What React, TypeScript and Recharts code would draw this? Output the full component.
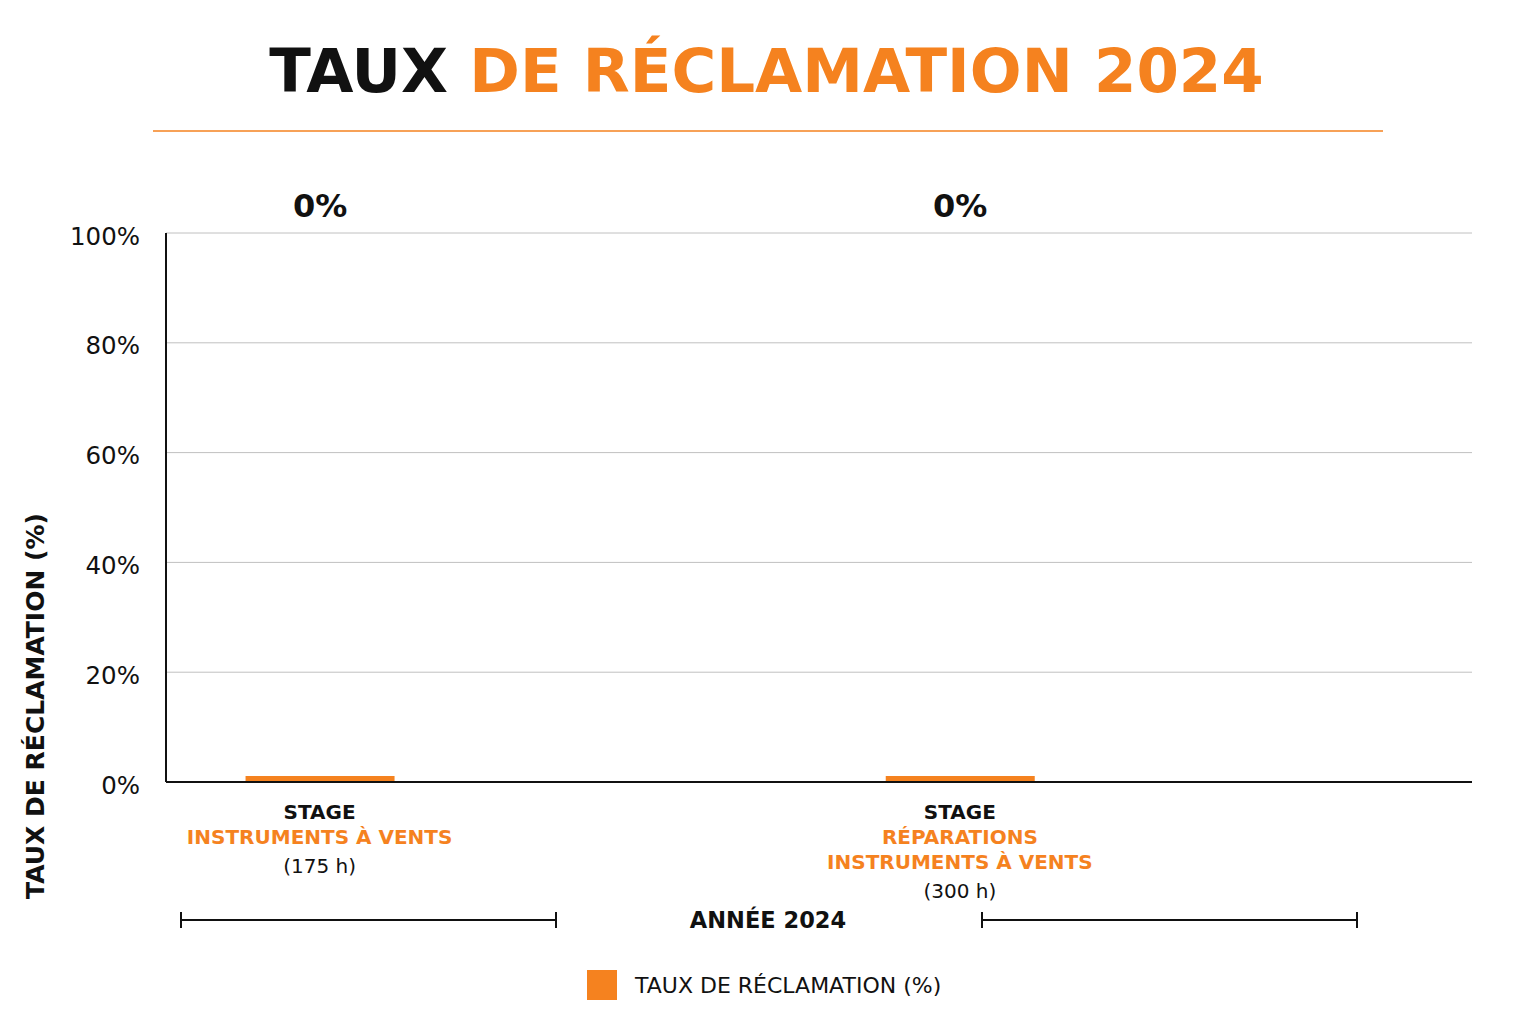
import React from "react";
import {
  BarChart,
  Bar,
  XAxis,
  YAxis,
  CartesianGrid,
  Legend,
  LabelList,
} from "recharts";

const ORANGE = "#F5821F";
const INK = "#111111";
const FONT = "DejaVu Sans, sans-serif";

// stage positions on the x axis, and what they are called
const positions = [0, 1];
const stageTitles = ["STAGE", "STAGE"];
const stageNames = [["INSTRUMENTS À VENTS"], ["RÉPARATIONS", "INSTRUMENTS À VENTS"]];
const stageHours = ["(175 h)", "(300 h)"];

// claim rate per stage, in %
const rates = [0, 0];

const yTicks = [0, 20, 40, 60, 80, 100];

const chartData = positions.map((pos, i) => ({ pos, rate: rates[i] }));

const W = 1520;
const H = 1008;
const MARGIN = { top: 225, right: 56, left: 78, bottom: 64 };

function StageTick(props: any) {
  const { x, y, payload } = props;
  const i = positions.indexOf(payload.value);
  if (i < 0) return null;
  const names = stageNames[i];
  return (
    <g fontFamily={FONT} fontSize={20} textAnchor="middle">
      <text x={x} y={y + 37} fill={INK} fontWeight="bold">
        {stageTitles[i]}
      </text>
      {names.map((n, k) => (
        <text key={n + k} x={x} y={y + 62 + k * 25} fill={ORANGE} fontWeight="bold">
          {n}
        </text>
      ))}
      <text x={x} y={y + 62 + (names.length - 1) * 25 + 29} fill={INK}>
        {stageHours[i]}
      </text>
    </g>
  );
}

function TopLabel(props: any) {
  const { x, width, value } = props;
  return (
    <text
      x={x + width / 2}
      y={MARGIN.top - 16}
      textAnchor="middle"
      fontFamily={FONT}
      fontWeight="bold"
      fontSize={32}
      fill={INK}
    >
      {`${value}%`}
    </text>
  );
}

function LegendContent() {
  return (
    <div
      style={{
        display: "flex",
        alignItems: "center",
        paddingLeft: 579,
        fontFamily: FONT,
        fontSize: 22,
        color: INK,
      }}
    >
      <div style={{ width: 30, height: 30, background: ORANGE, marginRight: 18 }} />
      <span>TAUX DE RÉCLAMATION (%)</span>
    </div>
  );
}

export default function App() {
  return (
    <div style={{ position: "relative", width: W, height: H }}>
      <BarChart width={W} height={H} data={chartData} margin={MARGIN}>
        <CartesianGrid vertical={false} stroke="#c0c0c0" />
        <XAxis
          type="number"
          dataKey="pos"
          domain={[-0.24, 1.8]}
          ticks={positions}
          tick={<StageTick />}
          tickLine={false}
          tickSize={0}
          tickMargin={0}
          height={140}
          axisLine={{ stroke: INK, strokeWidth: 2 }}
          interval={0}
        />
        <YAxis
          domain={[0, 100]}
          ticks={yTicks}
          tickFormatter={(v) => `${v}%`}
          tick={{ fontFamily: FONT, fontSize: 24.5, fill: INK, dy: 3 }}
          tickLine={false}
          tickSize={0}
          tickMargin={26}
          width={80}
          axisLine={{ stroke: INK, strokeWidth: 2 }}
        />
        <Legend
          verticalAlign="bottom"
          content={<LegendContent />}
          wrapperStyle={{ top: 962, bottom: "auto", left: 0, width: W, height: 30 }}
        />
        <Bar
          dataKey="rate"
          fill={ORANGE}
          barSize={149}
          minPointSize={6}
          isAnimationActive={false}
          legendType="square"
        >
          <LabelList dataKey="rate" content={<TopLabel />} />
        </Bar>
      </BarChart>

      <svg
        width={W}
        height={H}
        style={{ position: "absolute", left: 0, top: 0, pointerEvents: "none" }}
        fontFamily={FONT}
      >
        <text x={758.5} y={84} textAnchor="middle" fontSize={61} fontWeight="bold">
          <tspan fill={INK}>TAUX </tspan>
          <tspan fill={ORANGE}>DE RÉCLAMATION 2024</tspan>
        </text>
        <line x1={145} x2={1375} y1={123} y2={123} stroke={ORANGE} strokeWidth={1.5} />

        <text
          transform="translate(27, 698) rotate(-90)"
          textAnchor="middle"
          dominantBaseline="central"
          fontSize={25}
          fontWeight="bold"
          fill={INK}
        >
          TAUX DE RÉCLAMATION (%)
        </text>

        <g stroke={INK} strokeWidth={2}>
          <line x1={173} x2={548} y1={912} y2={912} />
          <line x1={173} x2={173} y1={904} y2={920} />
          <line x1={548} x2={548} y1={904} y2={920} />
          <line x1={974} x2={1349} y1={912} y2={912} />
          <line x1={974} x2={974} y1={904} y2={920} />
          <line x1={1349} x2={1349} y1={904} y2={920} />
        </g>
        <text
          x={760}
          y={920}
          textAnchor="middle"
          fontSize={22.5}
          fontWeight="bold"
          fill={INK}
        >
          ANNÉE 2024
        </text>
      </svg>
    </div>
  );
}
